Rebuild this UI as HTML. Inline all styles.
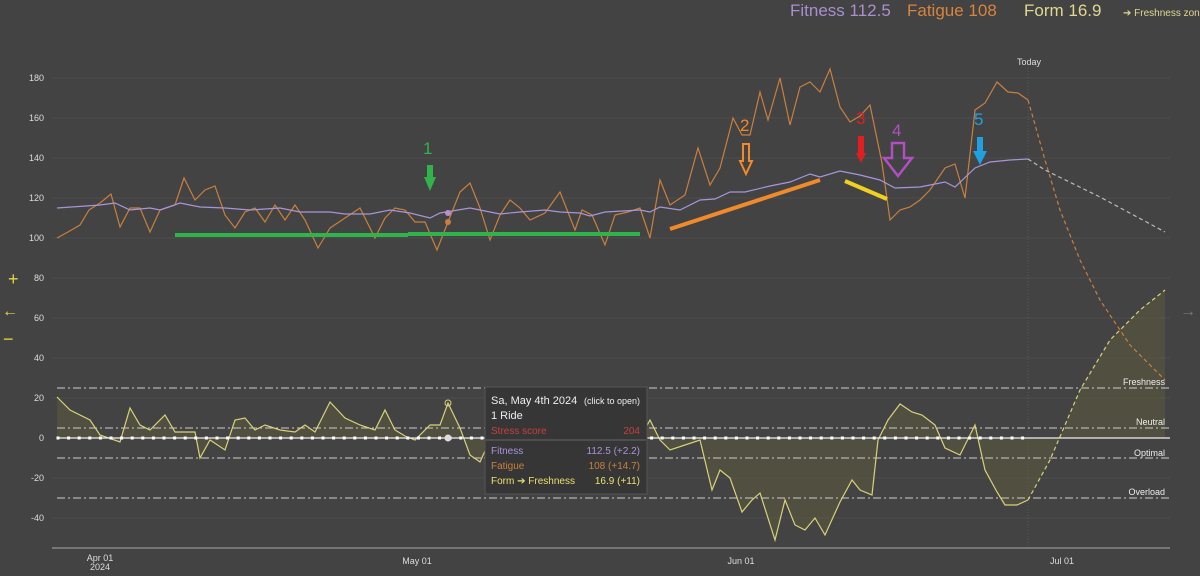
<!DOCTYPE html>
<html><head><meta charset="utf-8"><style>
html,body{margin:0;padding:0;background:#434343;width:1200px;height:576px;overflow:hidden;font-family:"Liberation Sans",sans-serif}
svg text{font-family:"Liberation Sans",sans-serif}
</style></head><body>
<svg width="1200" height="576" viewBox="0 0 1200 576" xmlns="http://www.w3.org/2000/svg">
<rect width="1200" height="576" fill="#434343"/>
<text x="790" y="16" font-size="17" fill="#a98fd0">Fitness 112.5</text>
<text x="907" y="16" font-size="17" fill="#d8843c">Fatigue 108</text>
<text x="1024" y="16" font-size="17" fill="#e0d890">Form 16.9</text>
<text x="1123" y="16" font-size="10" fill="#e0d890">➔ Freshness zone</text>
<g stroke="#4e4e4e" stroke-width="1">
<line x1="52" y1="78" x2="1170" y2="78"/><line x1="52" y1="118" x2="1170" y2="118"/><line x1="52" y1="158" x2="1170" y2="158"/><line x1="52" y1="198" x2="1170" y2="198"/><line x1="52" y1="238" x2="1170" y2="238"/><line x1="52" y1="278" x2="1170" y2="278"/><line x1="52" y1="318" x2="1170" y2="318"/><line x1="52" y1="358" x2="1170" y2="358"/><line x1="52" y1="398" x2="1170" y2="398"/><line x1="52" y1="478" x2="1170" y2="478"/><line x1="52" y1="518" x2="1170" y2="518"/>
</g>
<line x1="52" y1="548" x2="1170" y2="548" stroke="#888" stroke-width="1.5"/>
<g font-size="9" fill="#ddd" text-anchor="end">
<text x="44" y="81">180</text><text x="44" y="121">160</text><text x="44" y="161">140</text><text x="44" y="201">120</text><text x="44" y="241">100</text><text x="44" y="281">80</text><text x="44" y="321">60</text><text x="44" y="361">40</text><text x="44" y="401">20</text><text x="44" y="441">0</text><text x="44" y="481">-20</text><text x="44" y="521">-40</text>
</g>
<g font-size="9" fill="#ddd" text-anchor="middle">
<text x="100" y="561">Apr 01</text><text x="100" y="570">2024</text>
<text x="417" y="564">May 01</text><text x="741" y="564">Jun 01</text><text x="1062" y="564">Jul 01</text>
</g>
<text x="8" y="285" font-size="18" fill="#e8d840">+</text>
<text x="2" y="316" font-size="16" fill="#e8d840">←</text>
<text x="3" y="345" font-size="18" fill="#e8d840">−</text>
<text x="1180" y="316" font-size="16" fill="#777">→</text>
<line x1="1028" y1="68" x2="1028" y2="548" stroke="#5a5a5a" stroke-dasharray="1,2"/>
<text x="1029" y="65" font-size="9" fill="#ddd" text-anchor="middle">Today</text>
<polygon fill="#5f5e3e" fill-opacity="0.5" points="57,438 57,397 70,410 90,420 100,435 120,442 130,408 140,425 150,430 165,415 175,432 195,432 200,458 210,440 225,450 235,420 245,418 255,430 265,425 280,430 295,432 305,425 315,432 330,402 345,418 360,425 375,430 385,410 395,430 405,436 415,440 430,425 440,425 448,403 460,428 470,455 480,462 490,440 500,430 520,425 540,420 560,430 580,420 600,425 620,430 640,438 650,420 660,440 670,450 685,445 700,440 712,490 720,470 730,478 742,512 752,500 760,493 775,540 785,500 795,525 805,530 815,518 825,535 840,502 852,480 860,490 872,495 878,440 888,420 900,404 912,412 922,415 935,425 945,448 960,455 975,425 985,470 997,492 1005,505 1017,505 1028,500 1050,460 1080,390 1110,340 1140,310 1165,290 1165,438"/>
<g stroke="#ccc" stroke-width="1" stroke-dasharray="8,3,2,3">
<line x1="57" y1="388" x2="1170" y2="388"/><line x1="57" y1="428" x2="1170" y2="428"/><line x1="57" y1="458" x2="1170" y2="458"/><line x1="57" y1="498" x2="1170" y2="498"/>
</g>
<g font-size="9" fill="#eee" text-anchor="end">
<text x="1165" y="385">Freshness</text><text x="1165" y="425">Neutral</text><text x="1165" y="456">Optimal</text><text x="1165" y="495">Overload</text>
</g>
<polyline fill="none" stroke="#d8d27a" stroke-width="1.2" points="57,397 70,410 90,420 100,435 120,442 130,408 140,425 150,430 165,415 175,432 195,432 200,458 210,440 225,450 235,420 245,418 255,430 265,425 280,430 295,432 305,425 315,432 330,402 345,418 360,425 375,430 385,410 395,430 405,436 415,440 430,425 440,425 448,403 460,428 470,455 480,462 490,440 500,430 520,425 540,420 560,430 580,420 600,425 620,430 640,438 650,420 660,440 670,450 685,445 700,440 712,490 720,470 730,478 742,512 752,500 760,493 775,540 785,500 795,525 805,530 815,518 825,535 840,502 852,480 860,490 872,495 878,440 888,420 900,404 912,412 922,415 935,425 945,448 960,455 975,425 985,470 997,492 1005,505 1017,505 1028,500"/>
<polyline fill="none" stroke="#d8d27a" stroke-width="1.2" stroke-dasharray="4,3" points="1028,500 1050,460 1080,390 1110,340 1140,310 1165,290"/>
<line x1="57" y1="438" x2="1170" y2="438" stroke="#eee" stroke-width="1.2"/>
<g fill="#fff" id="dots"></g>
<polyline fill="none" stroke="#c8803e" stroke-width="1.2" points="57,238 68,232 80,225 89,210 100,203 111,194 120,227 130,208 140,208 150,232 160,210 175,205 184,178 195,200 205,190 215,186 225,215 235,228 245,212 255,208 265,222 275,205 285,220 295,205 305,220 318,248 330,228 345,218 360,208 375,238 385,218 395,208 405,210 415,222 425,222 437,250 448,222 460,192 470,183 480,208 490,240 500,215 510,200 520,208 530,220 545,213 560,192 575,230 582,210 592,215 605,245 615,215 628,212 640,208 650,238 660,180 670,205 685,195 698,148 710,185 720,168 733,118 742,135 750,135 760,92 768,120 780,78 790,125 800,87 810,82 820,92 830,69 840,107 850,122 860,116 870,105 882,163 890,220 900,210 910,207 920,200 930,190 945,168 955,164 965,198 975,110 985,103 997,82 1008,92 1018,93 1028,100"/>
<polyline fill="none" stroke="#c8803e" stroke-width="1.2" stroke-dasharray="4,3" points="1028,100 1045,160 1060,210 1080,260 1100,300 1130,345 1165,380"/>
<polyline fill="none" stroke="#a895d8" stroke-width="1.2" points="57,208 100,205 115,203 130,210 150,208 160,210 180,203 200,207 225,208 250,210 280,208 300,212 330,212 345,214 370,214 390,210 410,213 430,218 440,213 470,208 500,214 520,212 545,210 560,212 580,213 590,216 605,212 640,210 650,212 660,207 680,210 700,200 715,199 730,192 745,192 770,186 790,182 810,174 820,177 840,171 860,175 880,180 895,188 920,187 945,182 955,187 975,168 990,162 1010,160 1028,159"/>
<polyline fill="none" stroke="#bbb" stroke-width="1.2" stroke-dasharray="4,3" points="1028,159 1045,170 1100,197 1165,232"/>
<circle cx="448" cy="213" r="3" fill="#b890d0"/><circle cx="448" cy="222" r="3" fill="#c8803e"/>
<circle cx="448" cy="403" r="3" fill="none" stroke="#d8d27a"/>
<circle cx="448" cy="438" r="3.5" fill="#ddd"/>
<line x1="175" y1="235" x2="408" y2="235" stroke="#2fb34a" stroke-width="4"/>
<line x1="408" y1="234" x2="640" y2="234" stroke="#2fb34a" stroke-width="4"/>
<line x1="670" y1="229" x2="820" y2="180" stroke="#f08a2a" stroke-width="4"/>
<line x1="845" y1="181" x2="887" y2="199" stroke="#f0d020" stroke-width="4"/>
<text x="423" y="154" font-size="17" fill="#2fb34a">1</text>
<path d="M427,165h6v12h3l-6,14l-6,-14h3z" fill="#2fb34a"/>
<text x="740" y="131" font-size="17" fill="#f08a2a">2</text>
<path d="M743,144h6v17h3l-6,13l-6,-13h3z" fill="none" stroke="#f08a2a" stroke-width="2"/>
<text x="856" y="124" font-size="17" fill="#e02020">3</text>
<path d="M858,136h6v17h2l-5,10l-5,-10h2z" fill="#e02020"/>
<text x="892" y="136" font-size="17" fill="#b050c0">4</text>
<path d="M892,143h12v15h8l-14,18l-14,-18h8z" fill="none" stroke="#b050c0" stroke-width="2.5"/>
<text x="974" y="125" font-size="17" fill="#20a0e0">5</text>
<path d="M977,137h6v14h4l-7,14l-7,-14h4z" fill="#20a0e0"/>
<rect x="485" y="387" width="162" height="107" fill="#363636" stroke="#555"/>
<text x="491" y="404" font-size="11" fill="#eee">Sa, May 4th 2024</text>
<text x="640" y="404" font-size="9" fill="#eee" text-anchor="end">(click to open)</text>
<text x="491" y="419" font-size="11" fill="#eee">1 Ride</text>
<text x="491" y="434" font-size="10" fill="#c84040">Stress score</text>
<text x="640" y="434" font-size="10" fill="#c84040" text-anchor="end">204</text>
<line x1="486" y1="440" x2="646" y2="440" stroke="#666"/>
<text x="491" y="454" font-size="10" fill="#a895d8">Fitness</text>
<text x="640" y="454" font-size="10" fill="#a895d8" text-anchor="end">112.5 (+2.2)</text>
<text x="491" y="469" font-size="10" fill="#c8803e">Fatigue</text>
<text x="640" y="469" font-size="10" fill="#c8803e" text-anchor="end">108 (+14.7)</text>
<text x="491" y="484" font-size="10" fill="#e8e070">Form ➔ Freshness</text>
<text x="640" y="484" font-size="10" fill="#e8e070" text-anchor="end">16.9 (+11)</text>
</svg>
<script>
var g=document.getElementById('dots'),s='';
for(var x=58;x<=1030;x+=10.6){if(x>485&&x<647)continue;s+='<rect x="'+(x-1.5)+'" y="436.5" width="3" height="3"/>';}
g.innerHTML=s;
</script>
</body></html>
